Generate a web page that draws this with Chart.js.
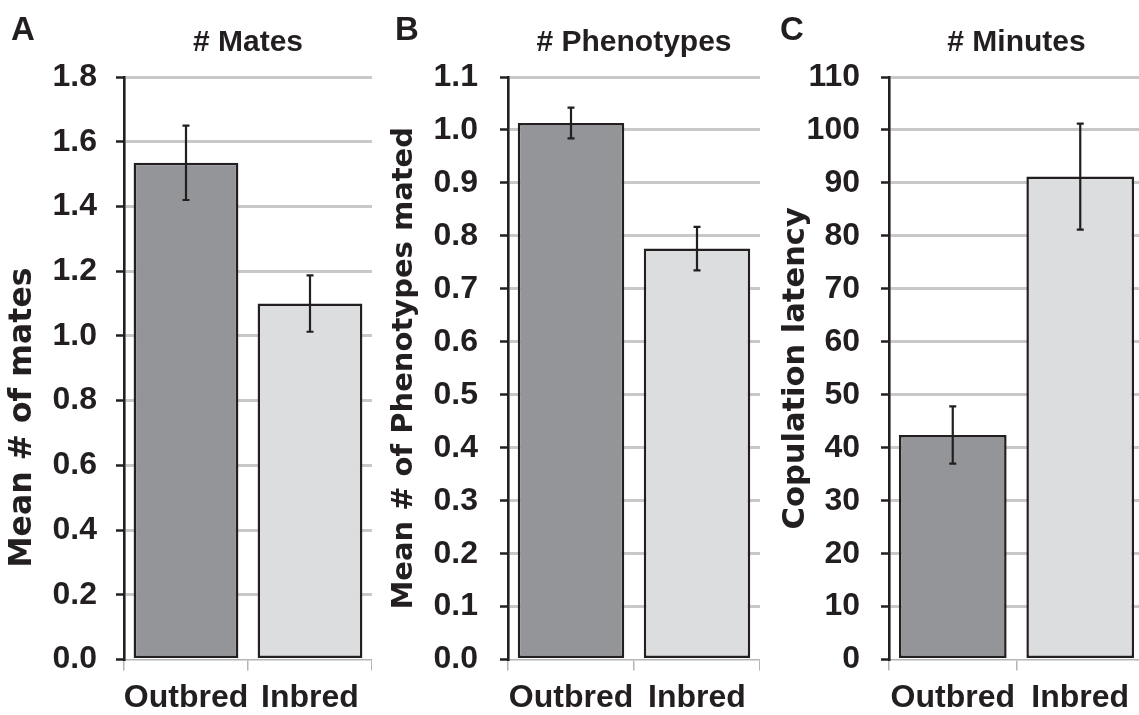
<!DOCTYPE html>
<html><head><meta charset="utf-8">
<script src="https://cdn.jsdelivr.net/npm/chart.js@4"></script>
<style>
html,body{margin:0;padding:0;background:#fff;}
body{width:1139px;height:715px;position:relative;overflow:hidden;}
.panel{position:absolute;top:0;height:725px;}
.letter{position:absolute;top:12px;font:bold 33px "Liberation Sans",Arial,sans-serif;line-height:33px;color:#231f20;}
</style></head><body>
<div class="panel" style="left:0;width:372px"><canvas id="cA"></canvas></div>
<div class="panel" style="left:380px;width:380px"><canvas id="cB"></canvas></div>
<div class="panel" style="left:760px;width:384px"><canvas id="cC"></canvas></div>
<div class="letter" style="left:11px">A</div>
<div class="letter" style="left:395px">B</div>
<div class="letter" style="left:780px">C</div>
<script>
const categories = ['Outbred', 'Inbred'];
const matesMeans = [1.535, 1.10];
const matesErrors = [0.115, 0.087];
const phenotypesMeans = [1.013, 0.776];
const phenotypesErrors = [0.029, 0.041];
const minutesMeans = [42.4, 91.2];
const minutesErrors = [5.4, 10.0];
const panelTitles = ['# Mates', '# Phenotypes', '# Minutes'];
const yTitles = ['Mean # of mates', 'Mean # of Phenotypes mated', 'Copulation latency'];
const yMaxes = [1.8, 1.1, 110];
const ySteps = [0.2, 0.1, 10];
const yDecimals = [1, 1, 0];

const INK = '#231f20';
const SANS = '"Liberation Sans", Arial, sans-serif';
const WIDE = '"DejaVu Sans", Verdana, sans-serif';
const barColors = ['#939598', '#dcddde'];

const errorBarPlugin = {
  id: 'errorBars',
  afterDatasetsDraw(chart) {
    const ctx = chart.ctx;
    const y = chart.scales.y;
    chart.data.datasets.forEach((ds, di) => {
      const meta = chart.getDatasetMeta(di);
      meta.data.forEach((el, i) => {
        const v = ds.data[i], e = ds.errors[i];
        const yt = y.getPixelForValue(v + e), yb = y.getPixelForValue(v - e);
        ctx.save();
        ctx.strokeStyle = INK;
        ctx.lineWidth = 2.2;
        ctx.beginPath();
        ctx.moveTo(el.x, yt); ctx.lineTo(el.x, yb);
        ctx.moveTo(el.x - 3.5, yt); ctx.lineTo(el.x + 3.5, yt);
        ctx.moveTo(el.x - 3.5, yb); ctx.lineTo(el.x + 3.5, yb);
        ctx.stroke();
        ctx.restore();
      });
    });
  }
};

function makePanel(id, idx, means, errors, yAxisWidth, padLeft, tickPad, yTitleSize, titleText) {
  new Chart(document.getElementById(id), {
    type: 'bar',
    data: {
      labels: categories,
      datasets: [{
        data: means,
        errors: errors,
        backgroundColor: barColors,
        borderColor: INK,
        borderWidth: 2.5,
        borderSkipped: false,
        categoryPercentage: 1,
        barPercentage: 0.845
      }]
    },
    options: {
      responsive: true,
      maintainAspectRatio: false,
      animation: false,
      layout: { padding: { left: padLeft, right: 0, top: 0, bottom: 0 } },
      plugins: {
        legend: { display: false },
        tooltip: { enabled: false },
        title: {
          display: true,
          text: panelTitles[idx],
          fullSize: false,
          color: INK,
          font: { family: SANS, size: 30, weight: 'bold' },
          padding: { top: 25, bottom: 16 }
        }
      },
      scales: {
        x: {
          grid: { offset: true, drawOnChartArea: false, color: '#b5b5b5', lineWidth: 1.5, tickLength: 11 },
          border: { color: '#b5b5b5', width: 1.5 },
          ticks: { color: INK, padding: 8, maxRotation: 0, minRotation: 0, autoSkip: false,
                   font: { family: SANS, size: 32, weight: 'bold' } }
        },
        y: {
          min: 0,
          max: yMaxes[idx],
          afterFit(scale) { scale.width = yAxisWidth; },
          ticks: {
            stepSize: ySteps[idx],
            color: INK,
            padding: tickPad,
            font: { family: SANS, size: 32, weight: 'bold' },
            callback: (v) => Number(v).toFixed(yDecimals[idx])
          },
          grid: {
            color: (c) => (c.tick && c.tick.value === 0) ? 'rgba(0,0,0,0)' : '#c8c8c8',
            lineWidth: 3,
            tickColor: INK,
            tickWidth: 2.5,
            tickLength: 8
          },
          border: { color: INK, width: 2.6 },
          title: {
            display: true,
            text: titleText,
            color: INK,
            font: { family: WIDE, size: yTitleSize, weight: 'bold' },
            padding: { top: 4, bottom: 4 }
          }
        }
      }
    },
    plugins: [errorBarPlugin]
  });
}

makePanel('cA', 0, matesMeans, matesErrors, 124, 0, 19, 31.5, yTitles[0] + '         ');
makePanel('cB', 1, phenotypesMeans, phenotypesErrors, 125, 3, 22, 29, yTitles[1]);
makePanel('cC', 2, minutesMeans, minutesErrors, 115, 14, 21, 30.5, yTitles[2]);
</script>
</body></html>
